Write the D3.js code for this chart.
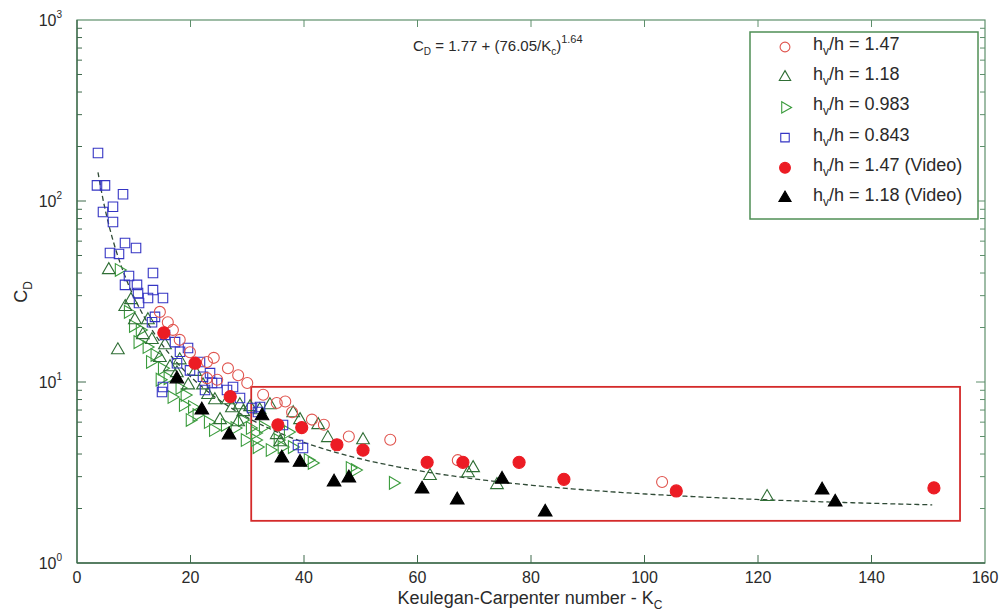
<!DOCTYPE html>
<html>
<head>
<meta charset="utf-8">
<script src="https://cdn.jsdelivr.net/npm/d3@7"></script>
<style>
  html, body { margin: 0; padding: 0; background: #fff; }
  svg { display: block; font-family: "Liberation Sans", Arial, Helvetica, sans-serif; }
</style>
</head>
<body>
<svg id="chart" width="1000" height="611"></svg>
<script>
// ---- data: [Kc, Cd] pairs per test series ----
const hv147 = [
  [14.6,24.4],[16.0,21.4],[16.9,19.4],[18.1,17.1],[19.9,14.6],[22.9,12.9],[24.1,13.6],
  [22.9,10.5],[24.7,10.3],[26.6,11.9],[28.4,10.9],[30.0,9.87],[32.8,8.5],[35.2,7.66],
  [36.7,7.8],[37.9,6.8],[41.4,6.2],[43.5,5.8],[47.9,5.0],[55.2,4.8],[67.1,3.7],[103.1,2.8]
];
const hv118 = [
  [5.6,41.6],[7.2,15.0],[8.5,26.0],[9.5,28.4],[10.2,22.0],[11.6,18.2],[12.5,22.0],
  [13.2,17.1],[14.6,13.6],[15.5,16.0],[16.4,12.1],[17.6,11.2],[18.1,13.2],[19.6,9.6],
  [20.8,11.4],[22.2,9.6],[23.1,8.5],[24.3,7.95],[25.2,6.17],[26.6,7.95],[27.3,7.18],
  [28.4,6.01],[28.7,7.46],[29.3,6.83],[30.5,7.28],[32.2,7.0],[34.0,7.46],[35.2,5.1],
  [35.8,4.66],[38.1,6.74],[39.3,6.17],[42.5,5.79],[44.2,4.91],[50.4,4.78],[62.2,3.03],
  [68.9,3.14],[69.8,3.35],[74.0,2.70],[121.6,2.32]
];
const hv0983 = [
  [7.4,41.6],[9.0,24.4],[9.9,20.4],[11.1,19.4],[10.7,16.6],[12.3,15.6],[13.7,14.1],
  [12.9,12.9],[15.0,11.9],[16.0,10.5],[16.7,8.26],[18.1,9.27],[19.0,8.47],[20.3,7.28],
  [21.1,6.57],[23.1,6.01],[19.9,6.17],[24.0,5.43],[26.1,5.79],[27.8,5.57],[29.1,6.17],
  [30.5,5.57],[31.4,4.78],[31.7,4.37],[32.8,5.64],[31.4,5.23],[29.6,4.78],[34.0,4.21],
  [35.4,4.78],[36.1,4.37],[37.2,5.29],[37.9,4.37],[40.7,3.71],[41.4,3.57],[48.1,3.35],
  [49.0,3.26],[55.7,2.77],[18.7,7.46],[14.6,10.3]
];
const hv0843 = [
  [3.70,184],[3.52,122],[4.93,122],[8.11,109],[4.58,87],[6.34,93],[6.34,76.6],[8.46,58.6],
  [10.40,55.0],[5.81,51.6],[7.40,51.0],[9.16,38.5],[13.39,40.0],[8.46,34.4],[10.57,34.4],
  [13.39,32.2],[15.15,29.1],[10.75,31.0],[10.93,27.3],[12.51,29.1],[13.74,22.9],[13.22,21.4],
  [15.51,18.2],[17.27,16.6],[18.15,14.7],[19.56,15.4],[17.62,12.7],[19.91,11.6],[21.67,12.9],
  [22.20,10.7],[23.79,9.87],[22.56,9.03],[26.43,9.03],[27.49,9.38],[28.72,8.16],[15.15,9.38],
  [14.98,8.81],[23.44,11.2],[24.67,9.87],[30.84,7.18],[31.89,6.83],[32.25,7.28],[36.30,5.79],
  [38.94,4.49],[39.82,4.32]
];
const hv147Video = [
  [15.3,18.7],[20.8,12.7],[27.0,8.3],[35.4,5.8],[39.6,5.6],[45.8,4.5],[50.4,4.2],
  [61.7,3.6],[68.0,3.6],[77.9,3.6],[85.8,2.9],[105.6,2.5],[151.0,2.6]
];
const hv118Video = [
  [17.6,10.4],[22.0,7.0],[26.8,5.1],[32.6,6.5],[36.1,3.8],[39.3,3.6],[45.3,2.8],
  [47.9,2.95],[60.8,2.56],[67.0,2.23],[74.9,2.9],[82.5,1.91],[131.3,2.53],[133.6,2.17]
];

// fitted drag law  Cd = A + (B / Kc)^N
const FIT_A = 1.77, FIT_B = 76.05, FIT_N = 1.64;
const fitRange = [3.7, 151];

// highlighted region (Kc range, Cd range)
const boxKc = [30.7, 155.6];
const boxCd = [1.71, 9.4];

const xTicks = [0, 20, 40, 60, 80, 100, 120, 140, 160];
const yDecades = [1, 10, 100, 1000];

const legendItems = [
  { label: "1.47", extra: "", kind: "openCircle" },
  { label: "1.18", extra: "", kind: "openUp" },
  { label: "0.983", extra: "", kind: "openRight" },
  { label: "0.843", extra: "", kind: "openSquare" },
  { label: "1.47", extra: " (Video)", kind: "filledCircle" },
  { label: "1.18", extra: " (Video)", kind: "filledUp" }
];

// ---- layout ----
const svg = d3.select("#chart");
const L = 77, R = 985, T = 20, B = 563;
const x = d3.scaleLinear().domain([0, 160]).range([L, R]);
const y = d3.scaleLog().domain([1, 1000]).range([B, T]);

const frameColor = "#5e8f6c";
const axisColor = "#3f6a4c";
const textColor = "#2a2a2a";

const styles = {
  openCircle:  { type: d3.symbolCircle,   size: 95,  fill: "none", stroke: "#e0544e", rot: 0 },
  openUp:      { type: d3.symbolTriangle, size: 70,  fill: "none", stroke: "#2f6e35", rot: 0 },
  openRight:   { type: d3.symbolTriangle, size: 70,  fill: "none", stroke: "#3c9c3e", rot: 90 },
  openSquare:  { type: d3.symbolSquare,   size: 90,  fill: "none", stroke: "#3535c4", rot: 0 },
  filledCircle:{ type: d3.symbolCircle,   size: 115, fill: "#ec1c24", stroke: "#ec1c24", rot: 0 },
  filledUp:    { type: d3.symbolTriangle, size: 80,  fill: "#000", stroke: "#000", rot: 0 }
};

// ---- frame and axes ----
svg.append("rect")
  .attr("x", L).attr("y", T).attr("width", R - L).attr("height", B - T)
  .attr("fill", "none").attr("stroke", frameColor).attr("stroke-width", 1.2);

// bottom axis ticks (inward) and mirrored top ticks
const gx = svg.append("g");
gx.selectAll("line.xb").data(xTicks.slice(1, -1)).join("line")
  .attr("x1", d => x(d)).attr("x2", d => x(d)).attr("y1", B).attr("y2", B - 8)
  .attr("stroke", axisColor).attr("stroke-width", 1);
gx.selectAll("line.xt").data(xTicks.slice(1, -1)).join("line")
  .attr("x1", d => x(d)).attr("x2", d => x(d)).attr("y1", T).attr("y2", T + 7)
  .attr("stroke", frameColor).attr("stroke-width", 1);
gx.selectAll("text").data(xTicks).join("text")
  .attr("x", d => x(d)).attr("y", 583)
  .attr("text-anchor", "middle").attr("font-size", 16).attr("fill", textColor)
  .text(d => d);

// left / right log ticks
const minor = [];
for (let e = 0; e < 3; e++) for (let m = 2; m <= 9; m++) minor.push(m * Math.pow(10, e));
const gy = svg.append("g");
gy.selectAll("line.maj").data(yDecades.slice(1, -1)).join("line")
  .attr("x1", L).attr("x2", L + 9).attr("y1", d => y(d)).attr("y2", d => y(d))
  .attr("stroke", axisColor);
gy.selectAll("line.min").data(minor).join("line")
  .attr("x1", L).attr("x2", L + 5).attr("y1", d => y(d)).attr("y2", d => y(d))
  .attr("stroke", axisColor);
gy.selectAll("line.rmaj").data(yDecades.slice(1, -1)).join("line")
  .attr("x1", R).attr("x2", R - 9).attr("y1", d => y(d)).attr("y2", d => y(d))
  .attr("stroke", frameColor);
gy.selectAll("line.rmin").data(minor).join("line")
  .attr("x1", R).attr("x2", R - 5).attr("y1", d => y(d)).attr("y2", d => y(d))
  .attr("stroke", frameColor);
// left and bottom axis lines drawn darker
svg.append("line").attr("x1", L).attr("x2", L).attr("y1", T).attr("y2", B)
  .attr("stroke", axisColor).attr("stroke-width", 1.3);
svg.append("line").attr("x1", L).attr("x2", R).attr("y1", B).attr("y2", B)
  .attr("stroke", axisColor).attr("stroke-width", 1.3);

const ylab = gy.selectAll("text").data(yDecades).join("text")
  .attr("x", 62).attr("y", d => y(d) + 6)
  .attr("text-anchor", "end").attr("font-size", 16).attr("fill", textColor);
ylab.append("tspan").text("10");
ylab.append("tspan").attr("dy", -8).attr("font-size", 10).text(d => Math.round(Math.log10(d)));

// axis titles
const xt = svg.append("text").attr("x", 530).attr("y", 604)
  .attr("text-anchor", "middle").attr("font-size", 18).attr("fill", textColor);
xt.append("tspan").text("Keulegan-Carpenter number - K");
xt.append("tspan").attr("dy", 5).attr("font-size", 12).text("C");

const yt = svg.append("text").attr("transform", "translate(27,292) rotate(-90)")
  .attr("text-anchor", "middle").attr("font-size", 18).attr("fill", textColor);
yt.append("tspan").text("C");
yt.append("tspan").attr("dy", 5).attr("font-size", 12).text("D");

// ---- highlighted region ----
svg.append("rect")
  .attr("x", x(boxKc[0])).attr("y", y(boxCd[1]))
  .attr("width", x(boxKc[1]) - x(boxKc[0])).attr("height", y(boxCd[0]) - y(boxCd[1]))
  .attr("fill", "none").attr("stroke", "#d42a2a").attr("stroke-width", 1.8);

// ---- fitted curve ----
const fitKc = d3.range(fitRange[0], fitRange[1] + 0.01, 0.5);
const fitPts = fitKc.map(k => [k, FIT_A + Math.pow(FIT_B / k, FIT_N)]);
svg.append("path").datum(fitPts)
  .attr("d", d3.line().x(d => x(d[0])).y(d => y(d[1])))
  .attr("fill", "none").attr("stroke", "#2f4a36").attr("stroke-width", 1.3)
  .attr("stroke-dasharray", "5,3");

// ---- markers ----
function drawSeries(data, kind) {
  const s = styles[kind];
  const sym = d3.symbol().type(s.type).size(s.size);
  svg.append("g").selectAll("path").data(data).join("path")
    .attr("d", sym)
    .attr("transform", d => `translate(${x(d[0])},${y(d[1])}) rotate(${s.rot})`)
    .attr("fill", s.fill).attr("stroke", s.stroke).attr("stroke-width", 1.1);
}
drawSeries(hv0983, "openRight");
drawSeries(hv118, "openUp");
drawSeries(hv0843, "openSquare");
drawSeries(hv147, "openCircle");
drawSeries(hv147Video, "filledCircle");
drawSeries(hv118Video, "filledUp");

// ---- equation ----
const eq = svg.append("text").attr("x", 413).attr("y", 51)
  .attr("font-size", 15).attr("fill", textColor);
eq.append("tspan").text("C");
eq.append("tspan").attr("dy", 4).attr("font-size", 10).text("D");
eq.append("tspan").attr("dy", -4).text(` = ${FIT_A} + (${FIT_B}/K`);
eq.append("tspan").attr("dy", 4).attr("font-size", 10).text("c");
eq.append("tspan").attr("dy", -4).text(")");
eq.append("tspan").attr("dy", -8).attr("font-size", 11).text(FIT_N);

// ---- legend ----
svg.append("rect").attr("x", 750).attr("y", 32).attr("width", 228).attr("height", 187)
  .attr("fill", "#fff").attr("stroke", "#4f8f55").attr("stroke-width", 1.5);
const lg = svg.append("g").selectAll("g").data(legendItems).join("g")
  .attr("transform", (d, i) => `translate(0,${44 + i * 30.2})`);
lg.append("path")
  .attr("d", d => d3.symbol().type(styles[d.kind].type).size(styles[d.kind].size * 0.8)())
  .attr("transform", d => `translate(785,3) rotate(${styles[d.kind].rot})`)
  .attr("fill", d => styles[d.kind].fill).attr("stroke", d => styles[d.kind].stroke)
  .attr("stroke-width", 1.1);
const lt = lg.append("text").attr("x", 813).attr("y", 6)
  .attr("font-size", 18).attr("fill", textColor);
lt.append("tspan").text("h");
lt.append("tspan").attr("dy", 5).attr("font-size", 12).text("v");
lt.append("tspan").attr("dy", -5).text(d => `/h = ${d.label}${d.extra}`);
</script>
</body>
</html>
